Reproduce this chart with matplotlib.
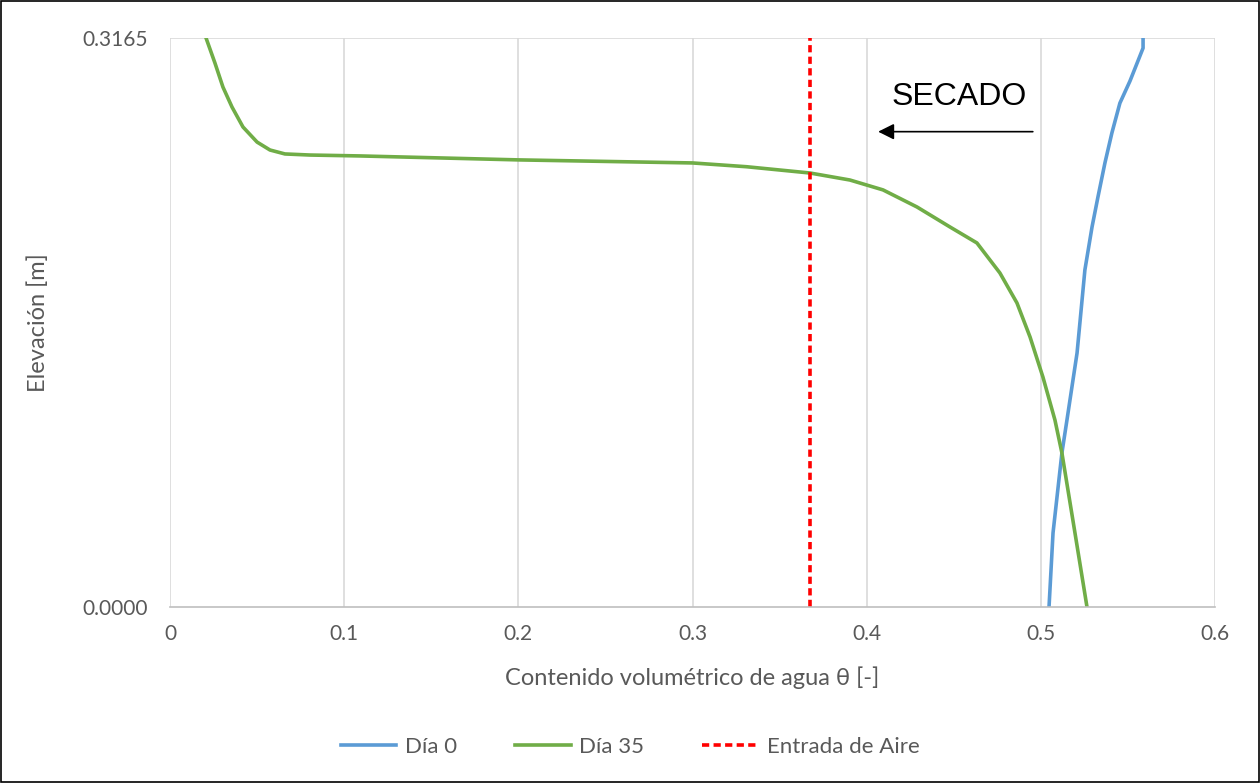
import matplotlib.pyplot as plt
from matplotlib.patches import Rectangle

# Día 0 (perfil inicial)
theta_dia0 = [0.5047, 0.5070, 0.5121, 0.5150, 0.5208, 0.5253, 0.5294, 0.5328, 0.5368,
              0.5408, 0.5454, 0.5512, 0.5587, 0.5587]
elev_dia0 = [0.0, 0.0412, 0.0857, 0.1040, 0.1413, 0.1875, 0.2114, 0.2281, 0.2470,
             0.2637, 0.2803, 0.2926, 0.3109, 0.3165]

# Día 35 (secado)
theta_dia35 = [0.5265, 0.5196, 0.5121, 0.5081, 0.5012, 0.4938, 0.4863, 0.4765, 0.4633,
               0.4478, 0.4289, 0.4094, 0.3904, 0.3675, 0.331, 0.300, 0.200, 0.109,
               0.0804, 0.0660, 0.0574, 0.0500, 0.0419, 0.0356, 0.0304, 0.0258, 0.0207]
elev_dia35 = [0.0, 0.0412, 0.0857, 0.1040, 0.1279, 0.1502, 0.1691, 0.1858, 0.2025,
              0.2114, 0.2225, 0.2320, 0.2375, 0.2414, 0.2449, 0.2470, 0.2487, 0.2509,
              0.2514, 0.2520, 0.2542, 0.2586, 0.2670, 0.2781, 0.2892, 0.3026, 0.3165]

# Entrada de aire
theta_aire = [0.3675, 0.3675]
elev_aire = [0.0, 0.3165]

x_ticks = [0, 0.1, 0.2, 0.3, 0.4, 0.5, 0.6]
x_tick_labels = ['0', '0.1', '0.2', '0.3', '0.4', '0.5', '0.6']
y_ticks = [0.0, 0.3165]
y_tick_labels = ['0.0000', '0.3165']

fuente = ['Lato', 'DejaVu Sans']
gris = '#595959'

fig = plt.figure(figsize=(12.6, 7.83), dpi=100)
ax = fig.add_axes([170/1260, 1 - 607/783, (1215-170)/1260, (607-38)/783])

ax.plot(theta_dia0, elev_dia0, color='#5b9bd5', lw=2.6, label='Día 0', solid_joinstyle='round')
ax.plot(theta_dia35, elev_dia35, color='#70ad47', lw=2.6, label='Día 35', solid_joinstyle='round')
ax.plot(theta_aire, elev_aire, color='#ff0000', lw=2.6, ls=(0, (2.0, 1.2)), label='Entrada de Aire')

ax.set_xlim(0, 0.6)
ax.set_ylim(0, 0.3165)
ax.set_xticks(x_ticks)
ax.set_xticklabels(x_tick_labels, family=fuente, fontsize=15, color=gris)
ax.set_yticks(y_ticks)
ax.set_yticklabels(y_tick_labels, family=fuente, fontsize=15, color=gris)
ax.tick_params(axis='x', length=0, pad=12)
ax.tick_params(axis='y', length=0, pad=16)

for xv in x_ticks:
    ax.axvline(xv, color='#d9d9d9', lw=1.2, zorder=0)
ax.axhline(0.3165, color='#d9d9d9', lw=1.2, zorder=0)
for s in ['top', 'right', 'left']:
    ax.spines[s].set_visible(False)
ax.spines['bottom'].set_color('#bfbfbf')
ax.spines['bottom'].set_linewidth(1.2)

ax.set_xlabel('Contenido volumétrico de agua θ [-]', family=fuente, fontsize=17, color=gris, labelpad=16)
ax.set_ylabel('Elevación [m]', family=fuente, fontsize=17, color=gris, labelpad=24)

# Flecha de secado
ax.annotate('', xy=(0.405, 0.2644), xytext=(0.497, 0.2644),
            arrowprops=dict(arrowstyle='-|>', color='black', lw=1.2, mutation_scale=24))
ax.text(0.453, 0.2835, 'SECADO', family=['Liberation Sans', 'DejaVu Sans'], fontsize=23,
        ha='center', va='center', color='black')

leg = fig.legend(loc='center', bbox_to_anchor=(0.5, 1 - 747/783), ncol=3, frameon=False,
                 prop={'family': fuente, 'size': 16}, handlelength=2.5, columnspacing=2.6,
                 handletextpad=0.4)
for t in leg.get_texts():
    t.set_color(gris)

fig.patches.append(Rectangle((0.0008, 0.0008), 0.9984, 0.9984, transform=fig.transFigure,
                             fill=False, edgecolor='black', lw=1.2))

fig.savefig('out.png', dpi=100)
